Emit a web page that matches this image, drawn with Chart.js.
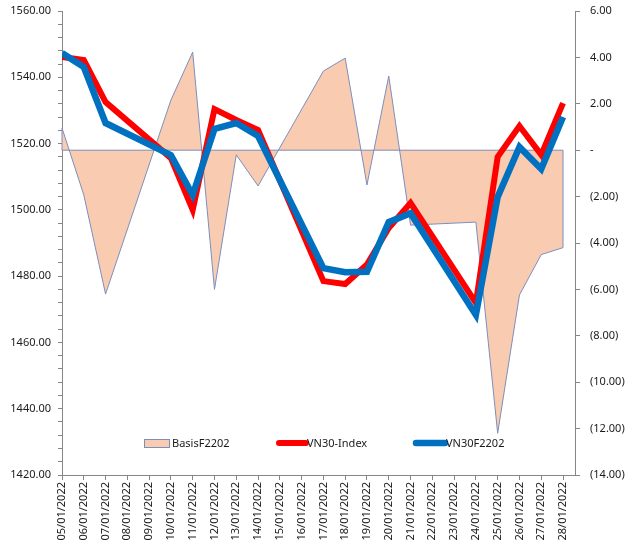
<!DOCTYPE html>
<html>
<head>
<meta charset="utf-8">
<script src="https://cdn.jsdelivr.net/npm/chart.js@4"></script>
<style>
  body { margin: 0; background: #fff; }
  canvas { display: block; }
</style>
</head>
<body>
<canvas id="chart" width="632" height="555"></canvas>
<script>
const dates = ["05/01/2022", "06/01/2022", "07/01/2022", "08/01/2022", "09/01/2022", "10/01/2022",
  "11/01/2022", "12/01/2022", "13/01/2022", "14/01/2022", "15/01/2022", "16/01/2022",
  "17/01/2022", "18/01/2022", "19/01/2022", "20/01/2022", "21/01/2022", "22/01/2022",
  "23/01/2022", "24/01/2022", "25/01/2022", "26/01/2022", "27/01/2022", "28/01/2022"];

// weekends have no values
const basis = [0.96, -1.93, -6.2, null, null, 2.16, 4.23, -6.0, -0.2, -1.54, null, null,
  3.41, 3.97, -1.5, 3.2, -3.23, null, null, -3.1, -12.2, -6.24, -4.5, -4.2];
const vn30Index = [1546.1, 1545.2, 1532.5, null, null, 1515.6, 1500.0, 1530.4, 1527.1, 1524.1, null, null,
  1478.5, 1477.6, 1483.5, 1494.5, 1502.1, null, null, 1471.9, 1516.0, 1525.3, 1516.6, 1532.2];
const vn30f = [1547.3, 1543.1, 1526.2, null, null, 1516.5, 1504.5, 1524.4, 1526.2, 1522.3, null, null,
  1482.4, 1481.2, 1481.3, 1496.3, 1499.0, null, null, 1468.3, 1503.9, 1519.0, 1512.3, 1528.0];

const FONT = { family: "'Noto Sans', sans-serif", size: 11 };
const AXIS = "#868686";
const AREA_FILL = "#f9cbb0";
const AREA_LINE = "#7b8fbd";

function toPoints(values) {
  const pts = [];
  values.forEach((v, i) => { if (v !== null) pts.push({ x: i, y: v }); });
  return pts;
}

function fmtBasis(v) {
  if (v === 0) return "-";
  if (v < 0) return "(" + Math.abs(v).toFixed(2) + ")";
  return v.toFixed(2);
}

const decor = {
  id: "decor",
  afterDatasetDraw(chart, args) {
    if (args.index !== 0) return;
    const pts = args.meta.data;
    const y0 = chart.scales.y1.getPixelForValue(0);
    const first = pts[0], last = pts[pts.length - 1];
    const ctx = chart.ctx;
    ctx.save();
    ctx.strokeStyle = AREA_LINE;
    ctx.lineWidth = 1;
    ctx.beginPath();
    ctx.moveTo(first.x, first.y);
    ctx.lineTo(first.x, y0);
    ctx.lineTo(last.x, y0);
    ctx.lineTo(last.x, last.y);
    ctx.stroke();
    ctx.restore();
  },
  afterDraw(chart) {
    const ctx = chart.ctx;
    const y = chart.chartArea.bottom - 32;
    ctx.save();
    ctx.font = FONT.size + "px " + FONT.family;
    ctx.textBaseline = "middle";
    // area swatch
    ctx.fillStyle = AREA_FILL;
    ctx.fillRect(144, y - 4, 25, 8);
    ctx.strokeStyle = AREA_LINE;
    ctx.lineWidth = 1;
    ctx.strokeRect(144.5, y - 3.5, 25, 8);
    ctx.fillStyle = "#1a1a1a";
    ctx.fillText(chart.data.datasets[0].label, 172, y + 1);
    // line swatches
    const lines = [[1, 279, 306], [2, 416, 445]];
    lines.forEach(([i, x1, x2]) => {
      const ds = chart.data.datasets[i];
      ctx.strokeStyle = ds.borderColor;
      ctx.lineWidth = ds.borderWidth;
      ctx.lineCap = "round";
      ctx.beginPath();
      ctx.moveTo(x1, y);
      ctx.lineTo(x2, y);
      ctx.stroke();
      ctx.fillStyle = "#1a1a1a";
      ctx.fillText(ds.label, x2 + 1, y + 1);
    });
    ctx.restore();
  }
};

function fitY(width) {
  return s => {
    s.width = width;
    s.paddingTop = 0;
    s.paddingBottom = 0;
  };
}

new Chart(document.getElementById("chart"), {
  type: "line",
  data: {
    datasets: [
      {
        label: "BasisF2202",
        data: toPoints(basis),
        yAxisID: "y1",
        fill: "origin",
        backgroundColor: AREA_FILL,
        borderColor: AREA_LINE,
        borderWidth: 1,
        pointRadius: 0,
        tension: 0,
        order: 2
      },
      {
        label: "VN30-Index",
        data: toPoints(vn30Index),
        yAxisID: "y",
        borderColor: "#ff0000",
        borderWidth: 6,
        pointRadius: 0,
        tension: 0,
        fill: false,
        order: 1
      },
      {
        label: "VN30F2202",
        data: toPoints(vn30f),
        yAxisID: "y",
        borderColor: "#0070c0",
        borderWidth: 6.5,
        pointRadius: 0,
        tension: 0,
        fill: false,
        order: 0
      }
    ]
  },
  options: {
    responsive: false,
    animation: false,
    layout: { padding: { top: 11, left: 0, right: 0, bottom: 0 } },
    plugins: { legend: { display: false }, tooltip: { enabled: false } },
    scales: {
      x: {
        type: "linear",
        min: 0,
        max: 23.55,
        afterBuildTicks: s => { s.ticks = dates.map((d, i) => ({ value: i })); },
        afterFit: s => { s.height = 80; },
        border: { color: AXIS },
        grid: { display: true, drawOnChartArea: false, tickLength: 5, color: AXIS },
        ticks: {
          autoSkip: false,
          maxRotation: 90,
          minRotation: 90,
          padding: 2,
          color: "#1a1a1a",
          font: FONT,
          callback: v => dates[v]
        }
      },
      y: {
        position: "left",
        min: 1420,
        max: 1560,
        afterFit: fitY(62),
        border: { color: AXIS },
        grid: { display: true, drawOnChartArea: false, tickLength: 4, color: AXIS },
        ticks: {
          stepSize: 4,
          autoSkip: false,
          padding: 7,
          color: "#1a1a1a",
          font: FONT,
          callback: v => (v % 20 === 0 ? v.toFixed(2) : "")
        }
      },
      y1: {
        position: "right",
        min: -14,
        max: 6,
        afterFit: fitY(57),
        border: { color: AXIS },
        grid: { display: true, drawOnChartArea: false, tickLength: 5, color: AXIS },
        ticks: {
          stepSize: 2,
          padding: 10,
          color: "#1a1a1a",
          font: FONT,
          callback: v => fmtBasis(v)
        }
      }
    }
  },
  plugins: [decor]
});
</script>
</body>
</html>
